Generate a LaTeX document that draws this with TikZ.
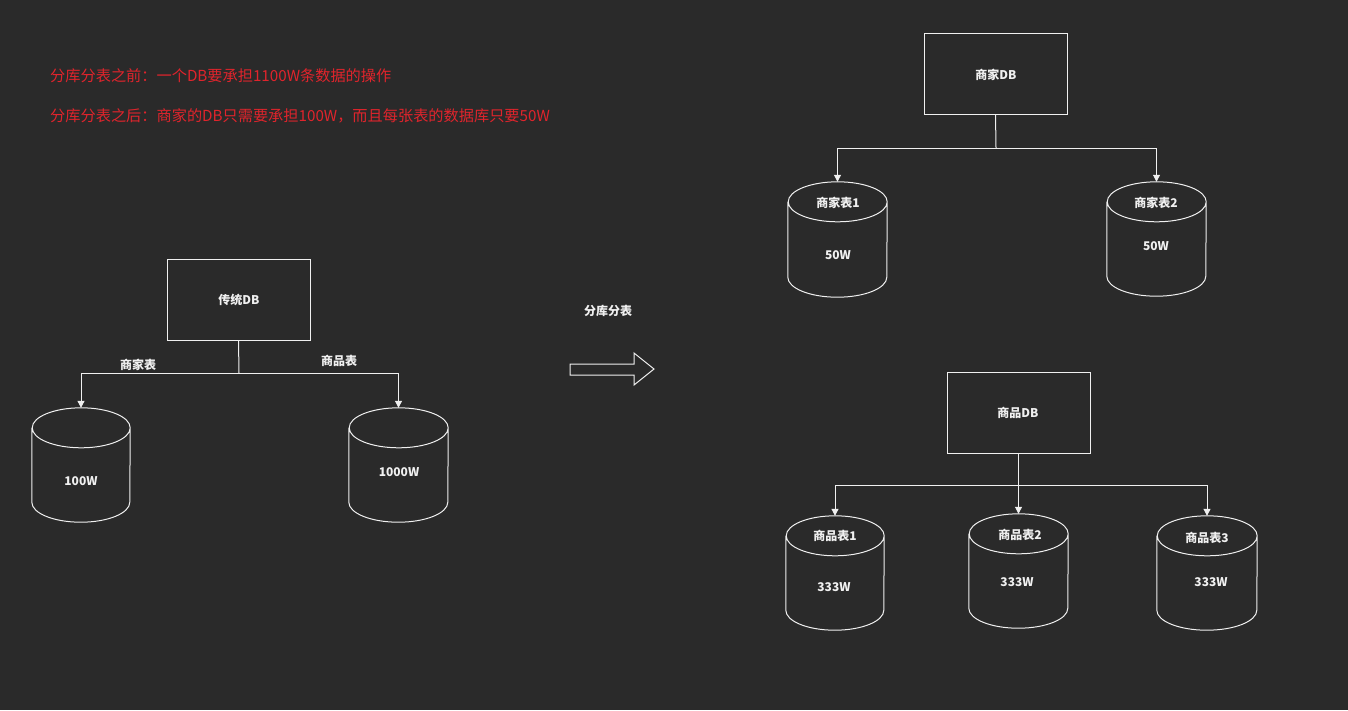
\documentclass[tikz,border=0pt]{standalone}
\usepackage{fontspec}
\setmainfont{Noto Sans CJK SC}
\usetikzlibrary{arrows.meta,calc}
\definecolor{bg}{HTML}{2A2A2A}
\definecolor{fg}{HTML}{F0F0F0}
\definecolor{note}{HTML}{E0242C}
\tikzset{
  line/.style={draw=fg, line width=1pt},
  conn/.style={line, -{Triangle[width=7pt,length=7pt]}, line join=miter},
  box/.style={line, rectangle, minimum width=143pt, minimum height=81pt, inner sep=0pt},
  lbl/.style={text=fg, font=\fontsize{12}{14}\selectfont\bfseries, inner sep=1pt},
  notetext/.style={text=note, font=\fontsize{15.2}{18}\selectfont, anchor=west, inner sep=0pt},
  cylbox/.style={draw=none, rectangle, inner sep=0pt}
}
\newcommand\dbcyl[5]{% name, cx, cy, w, h
  \node[cylbox, minimum width=#4pt, minimum height=#5pt] (#1) at (#2,#3) {};
  \draw[line, fill=bg] ([yshift=-20pt]#1.north west) -- ([yshift=20pt]#1.south west)
    arc[start angle=180, end angle=360, x radius=#4pt/2, y radius=20pt]
    -- ([yshift=-20pt]#1.north east)
    arc[start angle=0, end angle=180, x radius=#4pt/2, y radius=20pt]
    arc[start angle=180, end angle=360, x radius=#4pt/2, y radius=20pt];
}
\begin{document}
\begin{tikzpicture}[x=1pt, y=-1pt]
\fill[bg] (0,0) rectangle (1348,710);
\useasboundingbox (0,0) rectangle (1348,710);

% notes
\node[notetext] (n1) at (50,76) {分库分表之前：一个DB要承担1100W条数据的操作};
\node[notetext] (n2) at (50,116) {分库分表之后：商家的DB只需要承担100W，而且每张表的数据库只要50W};

% left: traditional DB
\node[box] (tdb) at (238.5,299.5) {};
\node[lbl] (tdbt) at (239,300) {传统DB};
\dbcyl{lc1}{81}{465}{98}{114}
\dbcyl{lc2}{398.5}{465}{99}{114}
\node[lbl] (lc1v) at (81,481) {100W};
\node[lbl] (lc2v) at (399,472) {1000W};
\coordinate (j0) at (239,373);
\draw[line] (tdb.south) -- (j0);
\draw[conn] (j0) -| (lc1.north);
\draw[conn] (j0) -| (lc2.north);
\node[lbl] (e1) at (138,365) {商家表};
\node[lbl] (e2) at (339,361) {商品表};

% middle arrow
\node[lbl] (mid) at (608,311) {分库分表};
\draw[line] (570,364) -- (634,364) -- (634,353) -- (654,369) -- (634,385) -- (634,375) -- (570,375) -- cycle;

% merchant DB
\node[box] (mdb) at (995.5,73.5) {};
\node[lbl] (mdbt) at (996,75) {商家DB};
\dbcyl{mc1}{837.5}{239.5}{99}{115}
\dbcyl{mc2}{1156.5}{239}{99}{114}
\node[lbl] (mc1t) at (838,203) {商家表1};
\node[lbl] (mc1v) at (838,255) {50W};
\node[lbl] (mc2t) at (1156,203) {商家表2};
\node[lbl] (mc2v) at (1156,246) {50W};
\coordinate (j1) at (996,148);
\draw[line] (mdb.south) -- (j1);
\draw[conn] (j1) -| (mc1.north);
\draw[conn] (j1) -| (mc2.north);

% product DB
\node[box] (pdb) at (1018.5,412.5) {};
\node[lbl] (pdbt) at (1018,413) {商品DB};
\dbcyl{pc1}{835}{573}{98}{114}
\dbcyl{pc2}{1018.5}{571}{99}{114}
\dbcyl{pc3}{1207}{573}{100}{114}
\node[lbl] (pc1t) at (835,536) {商品表1};
\node[lbl] (pc1v) at (834,587) {333W};
\node[lbl] (pc2t) at (1020,535) {商品表2};
\node[lbl] (pc2v) at (1017,582) {333W};
\node[lbl] (pc3t) at (1207,538) {商品表3};
\node[lbl] (pc3v) at (1211,582) {333W};
\coordinate (j2) at (1018,485);
\draw[conn] (pdb.south) -- (pc2.north);
\draw[conn] (j2) -| (pc1.north);
\draw[conn] (j2) -| (pc3.north);
\end{tikzpicture}
\end{document}
